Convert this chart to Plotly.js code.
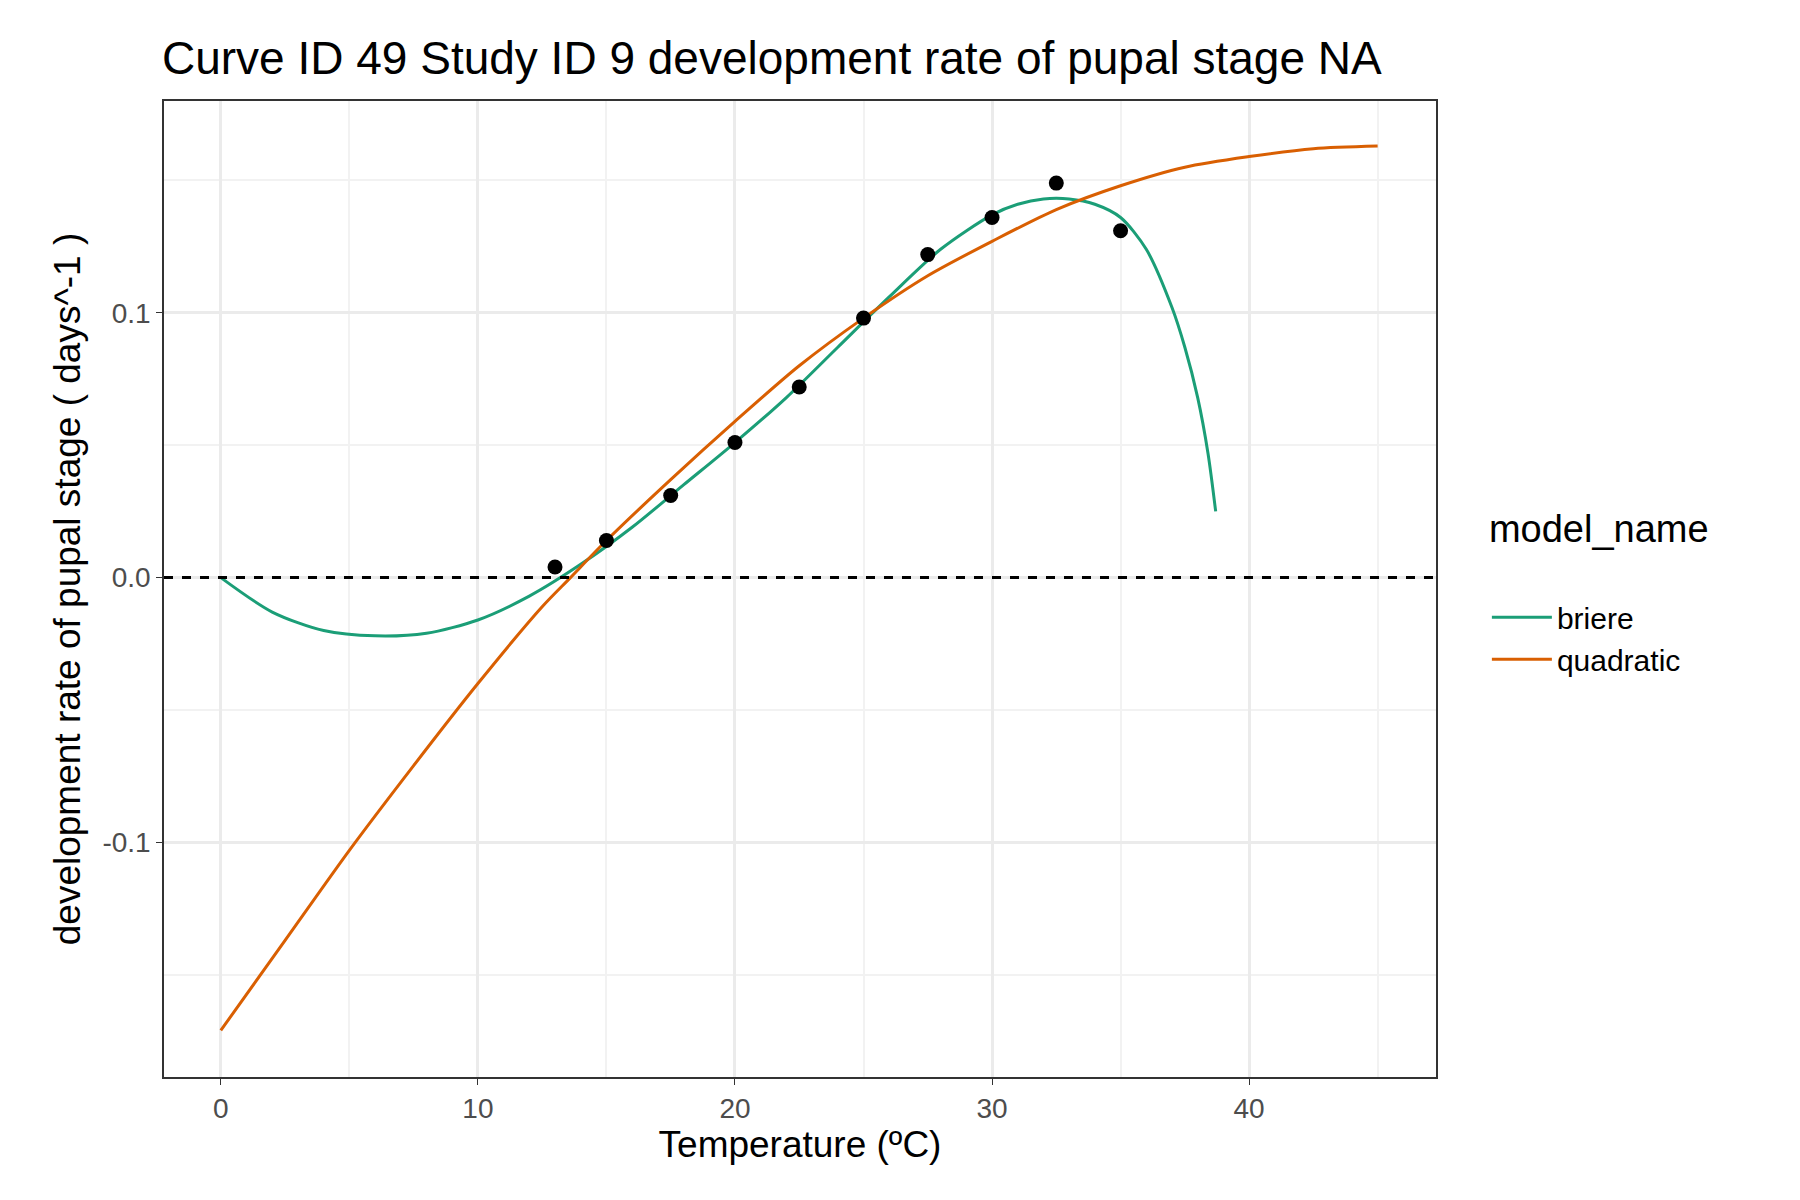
<!DOCTYPE html>
<html>
<head>
<script src="https://cdn.plot.ly/plotly-3.0.1.min.js"></script>
<style>body{margin:0;background:#fff}</style>
</head>
<body>
<div id="chart" style="width:1800px;height:1200px"></div>
<script>
// observed development rates
var obsTemp = [13, 15, 17.5, 20, 22.5, 25, 27.5, 30, 32.5, 35]
var obsRate = [0.004, 0.014, 0.031, 0.051, 0.072, 0.098, 0.122, 0.136, 0.149, 0.131]

// briere fit
var briereTemp = [0, 2, 4, 6, 8, 10, 12, 14, 16, 18, 20, 22, 24, 26, 28, 30, 31, 32, 33, 34, 35, 36, 37, 37.5, 38, 38.4, 38.7]
var briereRate = [0, -0.013, -0.020, -0.022, -0.021, -0.016, -0.007, 0.005, 0.019, 0.035, 0.051, 0.068, 0.087, 0.106, 0.124, 0.137, 0.141, 0.143, 0.143, 0.141, 0.136, 0.124, 0.102, 0.087, 0.068, 0.047, 0.025]

// quadratic fit
var quadTemp = [0, 2.5, 5, 7.5, 10, 12.5, 13.6, 15, 17.5, 20, 22.5, 25, 27.5, 30, 32.5, 35, 37.5, 40, 42.5, 45]
var quadRate = [-0.171, -0.137, -0.103, -0.071, -0.040, -0.011, 0, 0.014, 0.037, 0.059, 0.080, 0.098, 0.114, 0.127, 0.139, 0.148, 0.155, 0.159, 0.162, 0.163]

var data = [
  {x: briereTemp, y: briereRate, name: 'briere', mode: 'lines', line: {color: '#1b9e77', width: 3, shape: 'spline', smoothing: 0.8}},
  {x: quadTemp, y: quadRate, name: 'quadratic', mode: 'lines', line: {color: '#d95f02', width: 3, shape: 'spline', smoothing: 0.8}},
  {x: obsTemp, y: obsRate, mode: 'markers', showlegend: false, marker: {color: '#000', size: 15}},
  {x: [-2.21, 47.27], y: [0, 0], mode: 'lines', showlegend: false, line: {color: '#000', width: 3, dash: 'dash'}}
]

var axisCommon = {
  showline: true, mirror: true, linecolor: '#333', linewidth: 1.5,
  gridcolor: '#ebebeb', gridwidth: 3, zeroline: false,
  ticks: 'outside', ticklen: 6, tickcolor: '#333',
  tickfont: {size: 28, color: '#4d4d4d'}
}

var layout = {
  font: {family: 'Liberation Sans, Arial, sans-serif'},
  title: {text: 'Curve ID 49 Study ID 9 development rate of pupal stage NA', x: 0.09, xanchor: 'left', y: 0.965, font: {size: 46, color: '#000'}},
  margin: {l: 164, r: 364, t: 101, b: 123},
  plot_bgcolor: '#fff', paper_bgcolor: '#fff',
  xaxis: Object.assign({}, axisCommon, {range: [-2.21, 47.27], tickvals: [0, 10, 20, 30, 40],
    minor: {tickvals: [5, 15, 25, 35, 45], showgrid: true, gridcolor: '#f2f2f2', gridwidth: 1.5, ticks: ''},
    title: {text: 'Temperature (ºC)', font: {size: 37, color: '#000'}, standoff: 8}}),
  yaxis: Object.assign({}, axisCommon, {range: [-0.1886, 0.180], tickvals: [-0.1, 0, 0.1], ticktext: ['-0.1', '0.0', '0.1'],
    minor: {tickvals: [-0.15, -0.05, 0.05, 0.15], showgrid: true, gridcolor: '#f2f2f2', gridwidth: 1.5, ticks: ''},
    title: {text: 'development rate of pupal stage ( days^-1 )', font: {size: 37, color: '#000'}, standoff: 10}}),
  legend: {x: 1.04, y: 0.5, yanchor: 'middle', font: {size: 30, color: '#000'}, itemwidth: 60,
    title: {text: 'model_name<br> ', font: {size: 38, color: '#000'}}}
}

Plotly.newPlot('chart', data, layout, {displayModeBar: false})
</script>
</body>
</html>
